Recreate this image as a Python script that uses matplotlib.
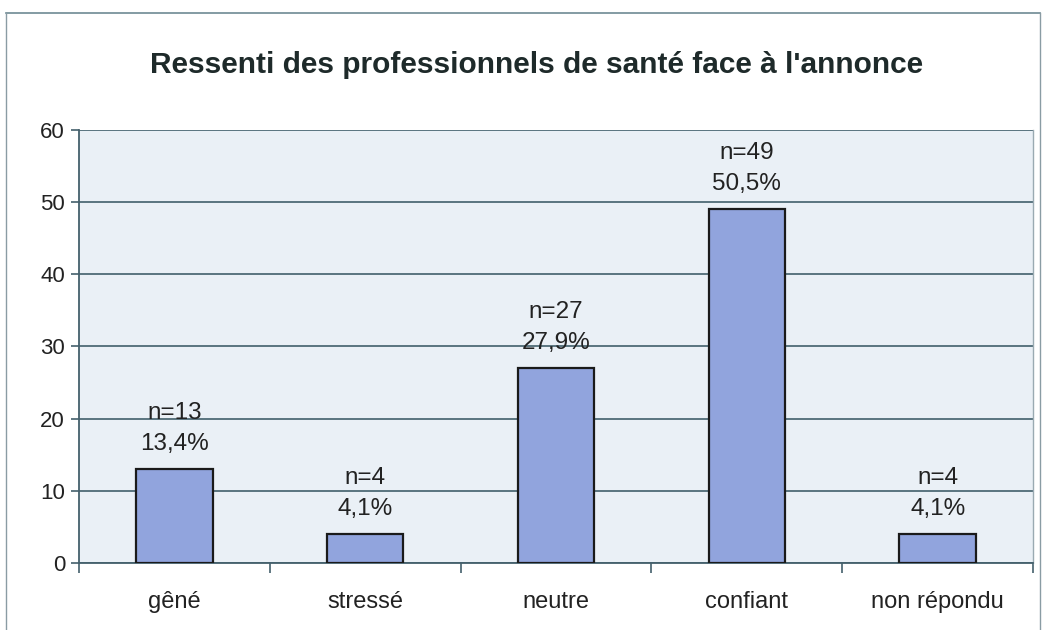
import matplotlib.pyplot as plt
import numpy as np

categories = ['gêné', 'stressé', 'neutre', 'confiant', 'non répondu']
effectifs = [13, 4, 27, 49, 4]
pourcentages = ['13,4%', '4,1%', '27,9%', '50,5%', '4,1%']

plt.rcParams['font.family'] = ['Liberation Sans', 'DejaVu Sans']

fig = plt.figure(figsize=(10.42, 6.3), dpi=100)
ax = fig.add_axes([0.0758, 0.1063, 0.9156, 0.6874])

x = np.arange(len(categories))
ax.bar(x, effectifs, width=0.4, color='#91a4dd', edgecolor='#1a1a1a', linewidth=1.6, zorder=3)

for xi, n, p in zip(x, effectifs, pourcentages):
    ax.annotate('n=%d\n%s' % (n, p), (xi, n), xytext=(0, 10), textcoords='offset points',
                ha='center', va='bottom', fontsize=17.5, color='#222222', linespacing=1.55)

ax.set_xlim(-0.5, len(categories) - 0.5)
ax.set_ylim(0, 60)
ax.set_yticks(range(0, 61, 10))
ax.set_xticks(x)
ax.set_xticklabels(categories)
ax.set_xticks(np.arange(-0.5, len(categories)), minor=True)
ax.tick_params(axis='x', which='major', length=0, pad=20, labelsize=17, labelcolor='#222222')
ax.tick_params(axis='x', which='minor', length=7, width=1.2, color='#44606c', direction='out')
ax.tick_params(axis='y', length=6, width=1.2, color='#44606c', labelsize=16, labelcolor='#222222', pad=4)

ax.set_facecolor('#eaf0f6')
ax.grid(axis='y', color='#4e6b76', linewidth=1.3, zorder=1)
for side in ['left', 'bottom']:
    ax.spines[side].set_color('#44606c')
    ax.spines[side].set_linewidth(1.3)
ax.spines['top'].set_visible(False)
ax.spines['right'].set_color('#9aaab2')
ax.spines['right'].set_linewidth(1.0)

fig.text(0.515, 0.897, "Ressenti des professionnels de santé face à l'annonce",
         ha='center', va='center', fontsize=21.5, fontweight='bold', color='#1e2a2a')

# cadre autour du graphique
fig.add_artist(plt.Line2D([0.006, 0.998], [0.979, 0.979], color='#6e8a94', linewidth=1.2))
fig.add_artist(plt.Line2D([0.006, 0.006], [0.0, 0.979], color='#8a9ca4', linewidth=1.0))
fig.add_artist(plt.Line2D([0.998, 0.998], [0.0, 0.979], color='#8a9ca4', linewidth=1.0))

fig.savefig('out.png', dpi=100)
